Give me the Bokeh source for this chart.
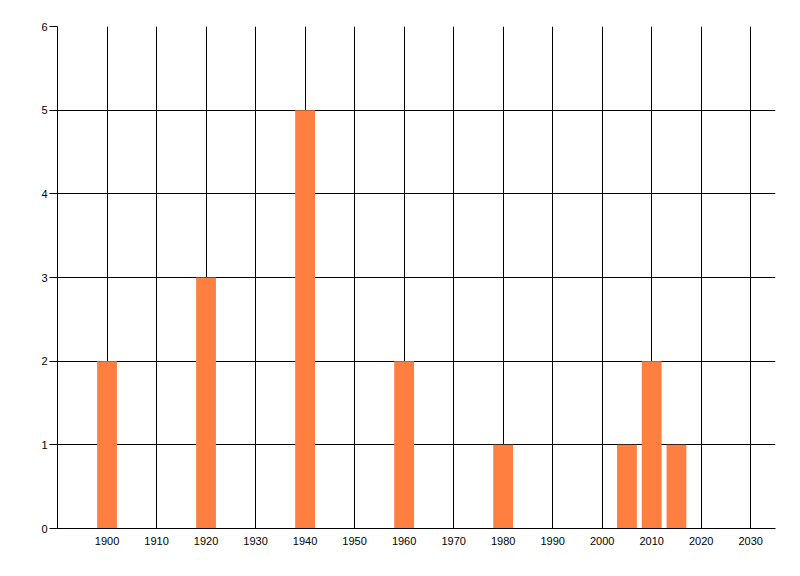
from bokeh.plotting import figure
from bokeh.models import FixedTicker, Range1d
from bokeh.embed import file_html
from bokeh.resources import INLINE

years = [1900, 1920, 1940, 1960, 1980, 2005, 2010, 2015]
counts = [2, 3, 5, 2, 1, 1, 2, 1]
x_ticks = [1900, 1910, 1920, 1930, 1940, 1950, 1960, 1970, 1980, 1990, 2000, 2010, 2020, 2030]
y_ticks = [0, 1, 2, 3, 4, 5, 6]

p = figure(width=784, height=562, output_backend="svg", toolbar_location=None,
           x_range=Range1d(1890, 2035), y_range=Range1d(0, 6),
           min_border_left=57, min_border_top=26, min_border_right=9, min_border_bottom=34)
p.frame_width = 718
p.frame_height = 502
p.outline_line_color = None
p.background_fill_color = "white"
p.border_fill_color = "white"

p.vbar(x=years, top=counts, bottom=0, width=4, fill_color="#FF7F40", line_color=None)

for ax in (p.xaxis[0], p.yaxis[0]):
    ax.axis_line_color = "black"
    ax.axis_line_width = 1
    ax.minor_tick_line_color = None
    ax.major_label_text_font = "Liberation Sans"
    ax.major_label_text_font_size = "11px"
    ax.major_label_text_color = "black"

p.xaxis.ticker = FixedTicker(ticks=x_ticks)
p.xaxis.major_tick_out = 0
p.xaxis.major_tick_in = 0
p.xaxis.major_label_standoff = 8

p.yaxis.ticker = FixedTicker(ticks=y_ticks)
p.yaxis.major_tick_out = 8
p.yaxis.major_tick_in = 0
p.yaxis.major_tick_line_color = "black"
p.yaxis.major_label_standoff = 2

p.xgrid.ticker = FixedTicker(ticks=x_ticks)
p.ygrid.ticker = FixedTicker(ticks=y_ticks)
for g in (p.xgrid[0], p.ygrid[0]):
    g.grid_line_color = "black"
    g.grid_line_width = 1
    g.grid_line_alpha = 1.0

open("out.html", "w").write(file_html(p, INLINE))
